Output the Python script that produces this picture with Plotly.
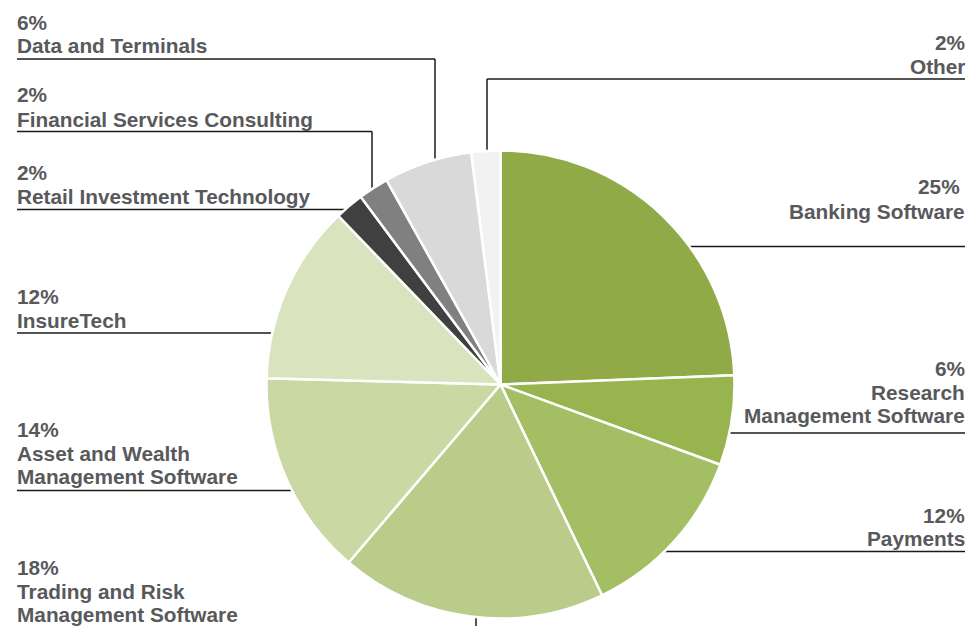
import plotly.graph_objects as go

W, H = 969, 626

# Data (clockwise from 12 o'clock)
categories = ["Banking Software", "Research Management Software", "Payments",
              "Trading and Risk Management Software", "Asset and Wealth Management Software",
              "InsureTech", "Retail Investment Technology", "Financial Services Consulting",
              "Data and Terminals", "Other"]
values = [24.4, 6.2, 12.3, 18.4, 14.2, 12.4, 2.0, 2.1, 6.1, 2.0]
pct_labels = ["25%\u00a0", "6%", "12%", "18%", "14%", "12%", "2%", "2%", "6%", "2%"]
label_lines = [["Banking Software"], ["Research", "Management Software"], ["Payments"],
               ["Trading and Risk", "Management Software"], ["Asset and Wealth", "Management Software"],
               ["InsureTech"], ["Retail Investment Technology"], ["Financial Services Consulting"],
               ["Data and Terminals"], ["Other"]]
colors = ["#8faa47", "#98b44f", "#a4be63", "#b9cc89", "#cad8a4",
          "#d9e3bd", "#404040", "#808080", "#d9d9d9", "#f2f2f2"]

# Layout helpers (pixel -> paper)
def px(x):
    return x / W

def py(y):
    return 1 - y / H

fig = go.Figure()
fig.add_trace(go.Pie(
    labels=categories, values=values, sort=False, direction="clockwise", rotation=0,
    marker=dict(colors=colors, line=dict(color="white", width=2.5)),
    textinfo="none", hoverinfo="label+percent", showlegend=False,
    domain=dict(x=[px(266), px(735)], y=[py(618.5), py(150.5)]),
))

# label placement: (side, baseline of first line, line pitch)
label_pos = [("right", 194, 24.5), ("right", 376, 23.3), ("right", 522.5, 23.3), ("left", 575, 23.5),
             ("left", 437, 23.5), ("left", 304, 23.5), ("left", 180, 24), ("left", 102, 24.3),
             ("left", 29.5, 23), ("right", 50, 23.5)]

FS = 20.8
font = dict(family="Liberation Sans, Arial, sans-serif", size=FS, color="#58595b", weight="bold")
for pct, lines, (side, b0, pitch) in zip(pct_labels, label_lines, label_pos):
    for i, t in enumerate([pct] + lines):
        base = b0 + i * pitch
        fig.add_annotation(
            x=px(15) if side == "left" else px(967), y=py(base - 0.35 * FS),
            xref="paper", yref="paper",
            xanchor="left" if side == "left" else "right", yanchor="middle",
            text=t, showarrow=False, font=font,
        )

# leader lines (drawn below the pie so the pie hides their ends)
leaders = [
    [(965, 246.5), (670, 246.5)],
    [(965, 433), (700, 433)],
    [(965, 551.5), (620, 551.5)],
    [(476, 626), (476, 600)],
    [(17, 490.5), (300, 490.5)],
    [(17, 333), (300, 333)],
    [(17, 209.5), (350, 209.5)],
    [(17, 131.5), (372, 131.5), (372, 195)],
    [(17, 59), (435, 59), (435, 185)],
    [(965, 79), (487, 79), (487, 175)],
]
for pts in leaders:
    for (x0, y0), (x1, y1) in zip(pts[:-1], pts[1:]):
        fig.add_shape(type="line", xref="paper", yref="paper",
                      x0=px(x0), y0=py(y0), x1=px(x1), y1=py(y1),
                      line=dict(color="#1a1a1a", width=1.5), layer="below")

fig.update_layout(width=W, height=H, margin=dict(l=0, r=0, t=0, b=0),
                  paper_bgcolor="white", plot_bgcolor="white")
fig.write_html("out.html", config={"displayModeBar": False},
               post_script="document.body.style.margin='0px';")
